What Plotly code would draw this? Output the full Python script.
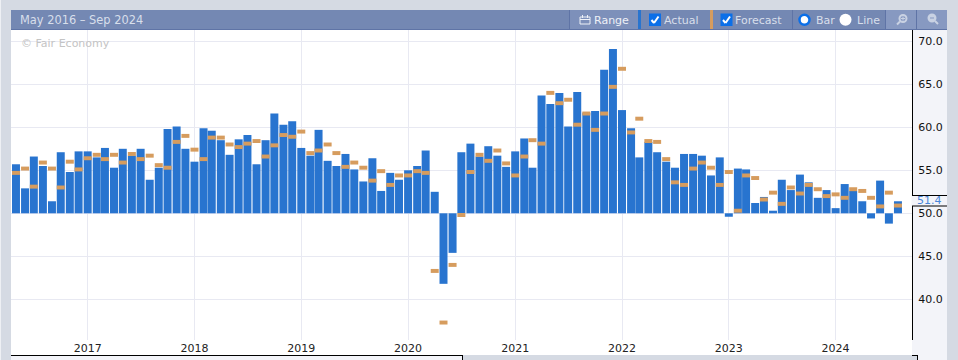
import plotly.graph_objects as go
import pandas as pd

W, H = 958, 360
L, R, T, B = 11, 912, 30, 340

dates = pd.date_range("2016-05-01", periods=100, freq="MS").strftime("%Y-%m-%d").tolist()

actual_2016_2018 = [55.7, 52.9, 56.6, 55.5, 51.4, 57.1, 54.8, 57.2,
                    57.2, 56.5, 57.6, 55.3, 57.5, 56.7, 57.5, 53.9, 55.3, 59.8, 60.1, 57.5,
                    56.0, 59.9, 59.6, 58.5, 56.8, 58.6, 59.1, 55.7, 58.5, 61.6, 60.3, 60.7]
actual_2019_2020 = [57.6, 56.7, 59.7, 56.1, 55.5, 56.9, 55.1, 53.7, 56.4, 52.6, 54.7, 53.9,
                    55.0, 55.5, 57.3, 52.5, 41.8, 45.4, 57.1, 58.1, 56.6, 57.8, 56.7, 55.4]
actual_2021_2022 = [57.2, 58.7, 55.3, 63.7, 62.7, 64.0, 60.1, 64.1, 61.7, 61.9, 66.7, 69.1,
                    62.0, 59.9, 56.5, 58.3, 57.1, 56.0, 55.3, 56.9, 56.9, 56.7, 54.4, 56.5]
actual_2023_2024 = [49.6, 55.2, 55.1, 51.2, 51.9, 50.3, 53.9, 52.7, 54.5, 53.6, 51.8, 52.7,
                    50.6, 53.4, 52.6, 51.4, 49.4, 53.8, 48.8, 51.4]
actual = actual_2016_2018 + actual_2019_2020 + actual_2021_2022 + actual_2023_2024

forecast_2016_2018 = [54.7, 55.2, 53.1, 55.9, 55.2, 53.0, 56.0, 55.1,
                      56.4, 56.8, 56.3, 56.8, 55.9, 56.9, 56.3, 56.7, 55.6, 55.3, 58.3, 59.0,
                      57.4, 56.3, 58.8, 58.8, 58.0, 57.7, 58.1, 58.4, 56.6, 57.9, 59.1, 58.9]
forecast_2019_2020 = [59.5, 57.0, 57.3, 58.0, 57.0, 55.4, 55.9, 55.3, 53.8, 54.9, 53.3, 54.4,
                      54.4, 54.9, 54.7, 43.3, 37.3, 44.0, 49.8, 54.8, 56.8, 56.1, 57.3, 55.8]
forecast_2021_2022 = [54.4, 56.6, 58.5, 58.1, 64.0, 62.8, 63.2, 60.3, 61.6, 59.7, 61.6, 64.7,
                      66.8, 59.4, 61.0, 58.4, 58.3, 56.3, 53.6, 53.3, 55.2, 55.9, 55.3, 53.3]
forecast_2023_2024 = [54.8, 50.3, 54.4, 54.1, 51.6, 52.4, 51.1, 53.0, 52.3, 53.3, 52.8, 52.0,
                      52.2, 51.8, 52.8, 52.6, 51.8, 50.8, 52.4, 50.9]
forecast = forecast_2016_2018 + forecast_2019_2020 + forecast_2021_2022 + forecast_2023_2024

BASE = 50
y_ticks = [40, 45, 50, 55, 60, 65, 70]
latest_label = "51.4"

PAGE = "#d5dae3"; PANEL = "#f3f4f9"; BAR = "#7488b3"; BLUE = "#2874cf"; ORANGE = "#d69c5e"
GRID = "#e8e9f2"; TXT = "#d8dfeb"; DARK = "#222222"; ICON = "#c9d2e3"
TICK_H = 0.46
BAR_W = 27.3 * 86400000

def px(x):
    return (x - L) / (R - L)
def py(y):
    return (B - y) / (B - T)

shapes, notes = [], []

def rect(x0, y0, x1, y1, fill, layer="below", line=None, lw=0):
    shapes.append(dict(type="rect", xref="paper", yref="paper", x0=px(x0), x1=px(x1), y0=py(y1), y1=py(y0),
                       fillcolor=fill, line=dict(color=line or fill, width=lw), layer=layer))
def seg(x0, y0, x1, y1, color, w=1, layer="above"):
    shapes.append(dict(type="line", xref="paper", yref="paper", x0=px(x0), x1=px(x1), y0=py(y0), y1=py(y1),
                       line=dict(color=color, width=w), layer=layer))
def circ(cx, cy, r, fill, line=None, lw=0):
    shapes.append(dict(type="circle", xref="paper", yref="paper", x0=px(cx-r), x1=px(cx+r), y0=py(cy+r), y1=py(cy-r),
                       fillcolor=fill, line=dict(color=line or fill, width=lw), layer="above"))
def text(x, y, s, color=TXT, size=11, anchor="left"):
    notes.append(dict(xref="paper", yref="paper", x=px(x), y=py(y), text=s, showarrow=False, xanchor=anchor,
                      yanchor="middle", borderpad=0, borderwidth=0, font=dict(color=color, size=size, family="DejaVu Sans")))

# page chrome
rect(0, 0, 1, H, "#eef0f4")
rect(L, B, R, 355, "#ffffff")
rect(L, 355, 462, H, PANEL)
seg(L, 355.5, 462, 355.5, "#000000")
seg(462.5, 355, 462.5, H, "#000000")
rect(R, T, 947, H, PANEL)
rect(R, 356, 917, H, PAGE)
seg(R, 355.5, 917, 355.5, "#000000")
seg(917.5, 355, 917.5, H, "#000000")

# tool bar
rect(L, 10, 947, 30, BAR, layer="above")
seg(L, 29.5, 947, 29.5, "#5f74a6")
rect(570, 10, 638, 29, "#7d90ba", layer="above")
rect(638, 10, 641, 29, BLUE, layer="above")
rect(710, 10, 713, 29, ORANGE, layer="above")
rect(885, 10, 916, 29, "#8799c1", layer="above")
rect(917, 10, 947, 29, "#8799c1", layer="above")
for xs in (569.5, 792.5, 885.5, 916.5):
    seg(xs, 10, xs, 29, "#5f74a6")
text(20, 20, "May 2016 – Sep 2024", size=11.4)
text(594, 20.5, "Range", "#eef1f7")
text(664, 20.5, "Actual")
text(735, 20.5, "Forecast")
text(816, 20.5, "Bar")
text(857, 20.5, "Line")

# calendar icon
rect(580, 17, 590, 24, "rgba(0,0,0,0)", layer="above", line="#eef1f7", lw=1)
seg(580, 19.5, 590, 19.5, "#eef1f7", 1)
seg(582.5, 15, 582.5, 18, "#eef1f7", 1)
seg(587.5, 15, 587.5, 18, "#eef1f7", 1)

# check boxes
for cx in (655, 726.5):
    rect(cx-6, 13.5, cx+6, 26, "#0b6fe8", layer="above", line="#0b6fe8", lw=0)
    seg(cx-3.5, 20, cx-1, 23, "#ffffff", 2)
    seg(cx-1, 23, cx+3.5, 16.5, "#ffffff", 2)

# radio buttons
circ(804.5, 19.8, 5, "#ffffff", "#0b6fe8", 2.5)
circ(845.5, 19.8, 6, "#ffffff")

# magnifier icons
circ(903, 18.5, 3.5, "rgba(0,0,0,0)", ICON, 2)
seg(900, 21.5, 897, 24.5, ICON, 2)
seg(901, 18.5, 905, 18.5, ICON, 1)
seg(903, 16.5, 903, 20.5, ICON, 1)
circ(932, 18, 3.5, ICON, ICON, 2)
seg(930, 18, 934, 18, "#8799c1", 1)
seg(935, 21, 938, 24, ICON, 2)

text(21, 43, "© Fair Economy", "#c4c4c4", 11)

# latest value flag
rect(R-0.5, 195.5, 947, 206, PANEL, layer="above")
seg(R, 195.5, 947, 195.5, "#000000")
seg(R, 206, 947, 206, "#000000")
text(917, 200.8, latest_label, "#4a86d8", 11)

fig = go.Figure()
fig.add_trace(go.Bar(x=dates, y=[a - BASE for a in actual], base=BASE, width=BAR_W,
                     marker=dict(color=BLUE, line=dict(width=0)), name="Actual"))
fig.add_trace(go.Bar(x=dates, y=[TICK_H] * len(forecast), base=[f - TICK_H / 2 for f in forecast], width=BAR_W,
                     marker=dict(color=ORANGE, line=dict(width=0)), name="Forecast"))

fig.update_layout(
    width=W, height=H, margin=dict(l=L, r=W - R, t=T, b=H - B, pad=0, autoexpand=False),
    paper_bgcolor=PAGE, plot_bgcolor="#ffffff", showlegend=False, barmode="overlay",
    font=dict(family="DejaVu Sans", size=11, color=DARK),
    shapes=shapes, annotations=notes,
    xaxis=dict(type="date", range=["2016-04-14", "2024-09-18"], tick0="2017-01-01", dtick="M12", tickformat="%Y",
               showgrid=True, gridcolor=GRID, gridwidth=1, zeroline=False, ticks="", showline=False, automargin=False,
               tickfont=dict(size=11, color=DARK)),
    yaxis=dict(side="right", range=[35.27, 71.31], tickvals=y_ticks, tickformat=".1f", automargin=False,
               showgrid=True, gridcolor=GRID, gridwidth=1, zeroline=False, showline=True, linecolor="#000000",
               linewidth=1, ticks="outside", ticklen=3, tickcolor="rgba(0,0,0,0)",
               tickfont=dict(size=11, color="#111111")),
)

fig.write_html("out.html", config=dict(displayModeBar=False),
               post_script="document.body.style.margin='0';document.body.style.overflow='hidden';")
